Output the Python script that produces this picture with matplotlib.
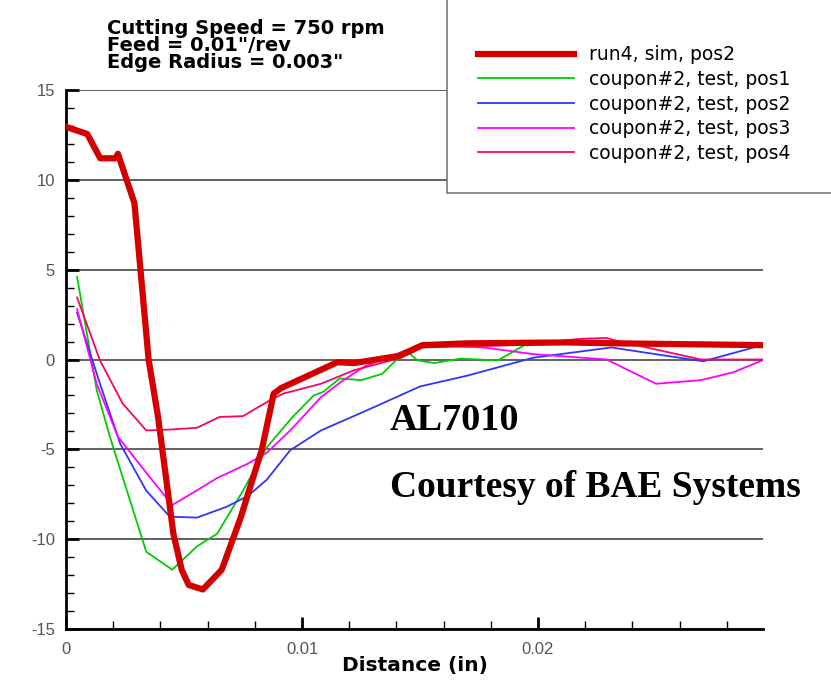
import matplotlib
matplotlib.use("Agg")
import matplotlib.pyplot as plt
from matplotlib.patches import Rectangle
from matplotlib.ticker import MultipleLocator

plt.rcParams["font.family"] = ["Liberation Sans", "DejaVu Sans"]
plt.rcParams["axes.unicode_minus"] = False

# run4, sim, pos2
sim_x = [0, 0.0009, 0.00145, 0.0021, 0.0022, 0.0029, 0.0035, 0.0039, 0.00455, 0.0049, 0.0052,
         0.0058, 0.0066, 0.0074, 0.0083, 0.0088, 0.0091, 0.0115, 0.0122, 0.0141, 0.0151, 0.017,
         0.0212, 0.0233, 0.0295]
sim_y = [12.95, 12.55, 11.2, 11.2, 11.45, 8.7, 0, -3.2, -9.7, -11.7, -12.55,
         -12.8, -11.7, -8.8, -5.0, -1.9, -1.6, -0.15, -0.2, 0.2, 0.8, 0.9,
         0.95, 0.9, 0.8]

# coupon#2 test positions
pos1_x = [0.00047, 0.0013, 0.00186, 0.0034, 0.0045, 0.00555, 0.0064, 0.0075, 0.0085, 0.0096,
          0.0105, 0.0109, 0.0116, 0.0125, 0.0134, 0.0144, 0.0149, 0.0156, 0.0167, 0.0183,
          0.0194, 0.022, 0.026, 0.0295]
pos1_y = [4.6, -1.7, -4.3, -10.7, -11.7, -10.4, -9.7, -7.3, -4.9, -3.2,
          -2.0, -1.8, -1.05, -1.15, -0.8, 0.5, -0.05, -0.2, 0.05, -0.05,
          0.78, 0.95, 0.9, 0.85]

pos2_x = [0.00047, 0.00144, 0.0023, 0.0034, 0.0044, 0.00555, 0.0068, 0.0077, 0.0085, 0.0095,
          0.0108, 0.0128, 0.015, 0.017, 0.0198, 0.0231, 0.027, 0.0295]
pos2_y = [2.6, -1.35, -4.7, -7.3, -8.75, -8.8, -8.2, -7.6, -6.7, -5.05,
          -3.95, -2.8, -1.5, -0.9, 0.1, 0.67, -0.1, 0.8]

pos3_x = [0.00047, 0.0013, 0.0022, 0.0034, 0.0045, 0.0054, 0.0064, 0.0077, 0.0085, 0.0095,
          0.0108, 0.0117, 0.0127, 0.0142, 0.0151, 0.0177, 0.0198, 0.0229, 0.025, 0.0269,
          0.0283, 0.0295]
pos3_y = [2.8, -1.35, -4.3, -6.3, -8.1, -7.4, -6.6, -5.8, -5.2, -3.95,
          -2.1, -1.2, -0.35, 0.4, 0.8, 0.67, 0.3, 0.0, -1.35, -1.15,
          -0.7, -0.05]

pos4_x = [0.00047, 0.00144, 0.0024, 0.0034, 0.0044, 0.00555, 0.0065, 0.0075, 0.0086, 0.0092,
          0.0108, 0.0122, 0.0142, 0.0151, 0.019, 0.0218, 0.0229, 0.0233, 0.0269, 0.0295]
pos4_y = [3.45, -0.05, -2.45, -3.95, -3.9, -3.8, -3.2, -3.15, -2.3, -1.9,
          -1.35, -0.6, 0.1, 0.67, 0.8, 1.15, 1.2, 1.05, 0.0, 0.0]

fig = plt.figure(figsize=(8.31, 6.8), dpi=100)
ax = fig.add_axes([66 / 831, 1 - 629 / 680, 697 / 831, 539 / 680])

ax.plot(sim_x, sim_y, color="#d40000", lw=4.5, label="run4, sim, pos2", zorder=3,
        solid_joinstyle="round")
ax.plot(pos1_x, pos1_y, color="#00cc00", lw=1.3, label="coupon#2, test, pos1")
ax.plot(pos2_x, pos2_y, color="#3333ff", lw=1.3, label="coupon#2, test, pos2")
ax.plot(pos3_x, pos3_y, color="#ff00ff", lw=1.3, label="coupon#2, test, pos3")
ax.plot(pos4_x, pos4_y, color="#ff0066", lw=1.3, label="coupon#2, test, pos4")

ax.set_xlim(0, 0.02953)
ax.set_ylim(-15, 15)
ax.xaxis.set_major_locator(MultipleLocator(0.01))
ax.xaxis.set_minor_locator(MultipleLocator(0.002))
ax.yaxis.set_major_locator(MultipleLocator(5))
ax.yaxis.set_minor_locator(MultipleLocator(1))
ax.xaxis.set_major_formatter(plt.FuncFormatter(lambda v, p: "0" if abs(v) < 1e-9 else f"{v:g}"))
ax.tick_params(which="both", direction="in", color="black", labelcolor="#555555", labelsize=12)
ax.tick_params(which="major", length=9, width=2)
ax.tick_params(which="minor", length=6, width=1)
ax.tick_params(axis="y", pad=8)
ax.tick_params(axis="x", pad=9)
ax.grid(axis="y", which="major", color="#555555", lw=1.3)
for s in ["top", "right"]:
    ax.spines[s].set_visible(False)
for s in ["left", "bottom"]:
    ax.spines[s].set_linewidth(2)

ax.set_xlabel("Distance (in)", family="DejaVu Sans", fontsize=14.5, fontweight="bold", labelpad=0)

ax.text(0.01373, -3.4, "AL7010", family="Liberation Serif", fontweight="bold",
        fontsize=27.5, va="center", ha="left")
ax.text(0.01373, -7.1, "Courtesy of BAE Systems", family="Liberation Serif", fontweight="bold",
        fontsize=27, va="center", ha="left")

fig.text(107 / 831, 1 - 19 / 680, "Cutting Speed = 750 rpm\nFeed = 0.01\"/rev\nEdge Radius = 0.003\"",
         family="DejaVu Sans", fontsize=14, fontweight="bold", va="top", ha="left", linespacing=0.85)

fig.add_artist(Rectangle((447 / 831, 1 - 193 / 680), 0.6, 0.5, transform=fig.transFigure,
                         facecolor="white", edgecolor="#777777", lw=1.2, zorder=2))
leg = fig.legend(loc="upper left", bbox_to_anchor=(469 / 831, 1 - 36 / 680), frameon=False,
                 prop={"family": "DejaVu Sans", "size": 13.5},
                 handlelength=5.1, handletextpad=0.8, labelspacing=0.3, borderpad=0)
leg.set_zorder(5)

fig.savefig("out.png", dpi=100)
